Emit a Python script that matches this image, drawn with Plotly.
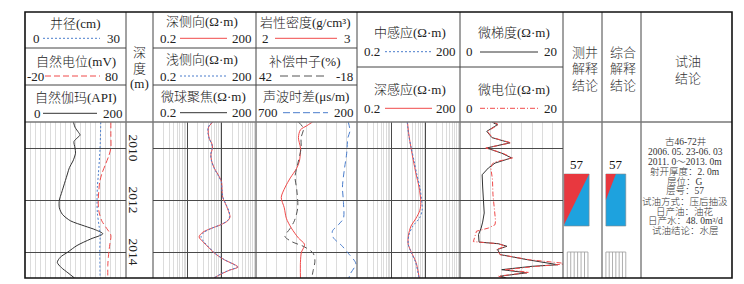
import plotly.graph_objects as go
import math

# page body has an 8px default margin: the figure is placed at (8, 8) in the window
OFF = 8
W, H = 744 - OFF, 284 - OFF
def px(x): return (x - OFF) / W
def py(y): return 1 - (y - OFF) / H

# ---------------- data ----------------
depth_top, depth_bot = 2009.0, 2015.0
depth_ticks = [2010, 2012, 2014]

# Track 1
gr_depth = [2009.0, 2009.2, 2009.4, 2009.5, 2009.62, 2009.75, 2010.0, 2010.2, 2010.5, 2010.75, 2011.0, 2011.25,
            2011.5, 2011.75, 2012.0, 2012.3, 2012.55, 2012.8, 2013.0, 2013.15, 2013.3, 2013.5, 2013.75, 2014.0,
            2014.2, 2014.4, 2014.6, 2014.8, 2015.0]
gr = [96, 99, 106, 109, 103, 97, 99, 100, 95, 88, 84, 80, 76, 72, 68, 68, 74, 90, 118, 140, 154, 130, 103, 85,
      70, 64, 72, 85, 98]
cal_depth = [2009.0, 2010.0, 2011.0, 2011.5, 2012.0, 2012.5, 2013.0, 2013.3, 2014.0, 2015.0]
cal = [22.5, 22.3, 21.8, 21.5, 21.4, 21.5, 22.0, 22.3, 22.2, 22.3]
sp_depth = [2009.0, 2009.5, 2010.0, 2010.3, 2010.6, 2011.0, 2011.3, 2011.7, 2012.0, 2012.4, 2012.8, 2013.1,
            2013.35, 2013.7, 2014.0, 2014.5, 2015.0]
sp = [65, 65, 65, 63, 60, 56, 54, 53, 52.5, 53, 56, 61, 65, 64, 63, 62, 62]

# Track 2 (laterolog)
ll_depth = [2009.0, 2009.2, 2009.45, 2009.65, 2009.85, 2010.0, 2010.25, 2010.5, 2010.8, 2011.1, 2011.3, 2011.6,
            2011.9, 2012.2, 2012.45, 2012.65, 2012.8, 2012.95, 2013.1, 2013.25, 2013.42, 2013.6, 2013.8, 2014.05,
            2014.3, 2014.5, 2014.58, 2014.7, 2014.85, 2015.0]
lld = [11, 8.3, 8.2, 8.8, 10.5, 10.8, 9.7, 10.2, 12.5, 17, 19.8, 20.5, 21.5, 27, 32, 35, 30, 19, 9.5, 5.5, 4.4,
       5.6, 8, 12.5, 24, 50, 60, 34, 19, 12]
lls = [10.6, 8.1, 8.0, 8.7, 10.3, 10.6, 9.6, 10.1, 12.3, 16.5, 19.5, 20.3, 21.8, 27.5, 33, 34, 29, 18.5, 9.8, 6.0,
       5.0, 6.0, 8.3, 12.8, 24.5, 48, 57, 33, 18.5, 12]

# Track 3 (porosity)
den_depth = [2009.0, 2009.15, 2009.3, 2009.6, 2010.0, 2010.5, 2010.8, 2011.15, 2011.5, 2011.9, 2012.3, 2012.7,
             2013.08, 2013.46, 2013.7, 2013.85, 2014.0, 2014.4, 2015.0]
den = [2.56, 2.50, 2.44, 2.42, 2.44, 2.43, 2.40, 2.34, 2.29, 2.25, 2.28, 2.30, 2.35, 2.42, 2.48, 2.47, 2.45, 2.44,
       2.44]
cnl_depth = [2009.0, 2009.25, 2009.6, 2010.0, 2010.5, 2011.1, 2011.6, 2012.3, 2012.8, 2013.1, 2013.4, 2013.6,
             2013.8, 2014.05, 2014.35, 2014.7, 2015.0]
cnl = [16.8, 13.8, 15.2, 15.2, 16.8, 18.8, 17.8, 17.2, 19.2, 21.8, 24.8, 20.8, 13.3, 8.0, 7.0, 8.0, 8.9]
ac_depth = [2009.0, 2009.35, 2009.6, 2010.2, 2010.85, 2011.5, 2012.1, 2012.7, 2012.95, 2013.2, 2013.45, 2013.75,
            2014.05, 2014.45, 2014.85, 2015.0]
ac = [243, 235, 245, 251, 263, 272, 267, 267, 292, 322, 317, 276, 243, 206, 234, 240]

# Track 4 (induction)
ind_depth = [2009.0, 2009.5, 2010.0, 2010.5, 2011.0, 2011.5, 2012.1, 2012.4, 2012.7, 2013.0, 2013.35, 2013.7,
             2014.0, 2014.4, 2015.0]
ild = [5.9, 6.5, 7.5, 8.8, 10.5, 12.8, 14.5, 13.5, 10.5, 7.5, 6.3, 6.2, 7.6, 10.5, 13]
ilm = [5.8, 6.4, 7.6, 9.2, 11, 13.5, 15.5, 15.8, 13.2, 8.5, 6.5, 6.2, 7.5, 10.2, 12.8]

# Track 5 (microlog)
mg_depth = [2009.0, 2009.04, 2009.1, 2009.36, 2009.6, 2009.8, 2010.0, 2010.2, 2010.38, 2010.58, 2010.77, 2011.03,
            2011.5, 2012.0, 2012.5, 2012.85, 2013.08, 2013.33, 2013.62, 2013.68, 2013.78, 2013.9, 2014.1, 2014.3,
            2014.49, 2014.55, 2014.68, 2014.8, 2014.93, 2015.0]
mg = [6.3, 6.5, 7.3, 5.2, 6.2, 9.7, 5.2, 8.1, 10.0, 6.8, 5.5, 4.3, 4.4, 4.6, 4.7, 4.4, 4.1, 3.6, 3.7, 7.4, 9.1,
      7.3, 7.8, 13.2, 19, 14, 8.1, 13, 7.8, 9]
mn_depth = [2009.0, 2009.1, 2009.36, 2009.6, 2009.8, 2010.0, 2010.2, 2010.38, 2010.55, 2010.64, 2010.8, 2011.2,
            2011.8, 2012.3, 2012.8, 2012.95, 2013.08, 2013.2, 2013.6, 2013.68, 2013.78, 2013.9, 2014.1, 2014.3,
            2014.45, 2014.55, 2014.68, 2014.78, 2014.93, 2015.0]
mn = [6.5, 7.5, 5.3, 6.3, 9.9, 5.0, 8.3, 10.2, 6.6, 6.2, 6.0, 6.3, 6.4, 6.6, 6.9, 6.8, 5.5, 3.2, 2.6, 7.4, 8.9,
      7.1, 7.8, 13.5, 21, 15, 8.7, 13.4, 7.5, 8.5]

# Interpretation
layer_no = ["57"]
layer_top = [2011.0]
layer_bot = [2013.0]
test_top = [2014.0]
test_bot = [2015.0]

oil_test_lines = ["古46-72井", "2006. 05. 23-06. 03", "2011. 0～2013. 0m", "射开厚度：2. 0m", "层位：G",
                  "层号：57", "试油方式：压后抽汲", "日产油：油花", "日产水：48. 0m³/d", "试油结论：水层"]

# ---------------- styling ----------------
RED = "#f04a4a"
BLUE = "#4a7dcc"
BLK = "#333333"
SERIF = "Liberation Serif, Noto Sans CJK SC, serif"
GRID = "#dcdcdc"
MAJ = "#4a4a4a"

Y0, Y1 = 122, 278
ydom = [py(Y1), py(Y0)]

cols = {"t1": (25, 126), "t2": (153, 256), "t3": (256, 357), "t4": (357, 460), "t5": (460, 563),
        "c1": (563, 602), "c2": (602, 641)}

fig = go.Figure()
lay = {}

def dom(k):
    a, b = cols[k]
    return [px(a), px(b)]

def base_x(name, k, rng, typ="linear", tickvals=None, minor_vals=None, major_vals=None, anchor="y"):
    d = dict(domain=dom(k), range=rng, type=typ, showticklabels=False, ticks="", zeroline=False,
             showline=False, anchor=anchor, fixedrange=True)
    if tickvals is not None:
        d.update(tickmode="array", tickvals=tickvals, showgrid=True, gridcolor=GRID, gridwidth=1)
    elif major_vals is not None:
        d.update(tickmode="array", tickvals=major_vals, showgrid=True, gridcolor=MAJ, gridwidth=1.2,
                 minor=dict(tickmode="array", tickvals=minor_vals, showgrid=True, gridcolor=GRID, gridwidth=1,
                            ticks=""))
    else:
        d.update(showgrid=False)
    lay[name] = d

def over_x(name, base, rng, typ="linear", anchor="y"):
    lay[name] = dict(overlaying=base, range=rng, type=typ, showticklabels=False, ticks="", showgrid=False,
                     zeroline=False, showline=False, anchor=anchor, fixedrange=True)

def yax(name, anchor, grid=True):
    d = dict(domain=ydom, range=[depth_bot, depth_top], showticklabels=False, ticks="", zeroline=False,
             showline=False, anchor=anchor, fixedrange=True)
    if grid:
        d.update(tickmode="array", tickvals=depth_ticks, showgrid=True, gridcolor=MAJ, gridwidth=1.2)
    else:
        d.update(showgrid=False)
    lay[name] = d

logminor = []
for dec in [0.2, 2, 20]:
    for k in range(1, 11):
        logminor.append(round(dec * k, 6))

# Track 1
base_x("xaxis", "t1", [0, 200], tickvals=list(range(0, 201, 10)))
over_x("xaxis2", "x", [0, 30])
over_x("xaxis3", "x", [-20, 80])
yax("yaxis", "x")
# Track 2
base_x("xaxis4", "t2", [math.log10(0.2), math.log10(200)], typ="log", major_vals=[2, 20], minor_vals=logminor,
       anchor="y2")
over_x("xaxis5", "x4", [math.log10(0.2), math.log10(200)], typ="log", anchor="y2")
yax("yaxis2", "x4")
# Track 3
base_x("xaxis6", "t3", [2, 3], tickvals=[2 + i * 0.1 for i in range(11)], anchor="y3")
over_x("xaxis7", "x6", [42, -18], anchor="y3")
over_x("xaxis8", "x6", [700, 200], anchor="y3")
yax("yaxis3", "x6")
# Track 4
base_x("xaxis9", "t4", [math.log10(0.2), math.log10(200)], typ="log", major_vals=[2, 20], minor_vals=logminor,
       anchor="y4")
over_x("xaxis10", "x9", [math.log10(0.2), math.log10(200)], typ="log", anchor="y4")
yax("yaxis4", "x9")
# Track 5
base_x("xaxis11", "t5", [0, 20], tickvals=list(range(0, 21, 2)), anchor="y5")
over_x("xaxis12", "x11", [0, 20], anchor="y5")
yax("yaxis5", "x11")
# interpretation columns
base_x("xaxis13", "c1", [0, 1], anchor="y6")
yax("yaxis6", "x13", grid=False)
base_x("xaxis14", "c2", [0, 1], anchor="y7")
yax("yaxis7", "x14", grid=False)

def curve(x, y, xa, ya, color, dash="solid", width=1.0, shape="spline"):
    fig.add_trace(go.Scatter(x=x, y=y, xaxis=xa, yaxis=ya, mode="lines", hoverinfo="skip",
                             line=dict(color=color, dash=dash, width=width, shape=shape,
                                       smoothing=0.8 if shape == "spline" else None)))

curve(gr, gr_depth, "x", "y", BLK)
curve(cal, cal_depth, "x2", "y", BLUE, dash="2px,2px")
curve(sp, sp_depth, "x3", "y", RED, dash="6px,3px")
curve(lls, ll_depth, "x5", "y2", BLUE, dash="2px,2px")
curve(lld, ll_depth, "x4", "y2", RED)
curve(cnl, cnl_depth, "x7", "y3", "#555555", dash="6px,4px")
curve(ac, ac_depth, "x8", "y3", BLUE, dash="6px,4px")
curve(den, den_depth, "x6", "y3", RED)
curve(ilm, ind_depth, "x10", "y4", BLUE, dash="2px,2px")
curve(ild, ind_depth, "x9", "y4", RED)
curve(mn, mn_depth, "x12", "y5", RED, dash="5px,2px,1px,2px", shape="linear")
curve(mg, mg_depth, "x11", "y5", BLK, shape="linear")

# interpretation blocks
C_RED = "#e8383f"
C_BLUE = "#1ea2de"
def block(xa, ya, x0, x1, top, bot, fr):
    xm = x0 + (x1 - x0) * fr[0]
    ym = top + (bot - top) * fr[1]
    fig.add_trace(go.Scatter(x=[x0, x1, x1, x0, x0], y=[top, top, bot, bot, top], xaxis=xa, yaxis=ya,
                             mode="lines", fill="toself", fillcolor=C_BLUE, line=dict(color="#888", width=0.6),
                             hoverinfo="skip"))
    fig.add_trace(go.Scatter(x=[x0, xm, x0, x0], y=[top, top, ym, top], xaxis=xa, yaxis=ya, mode="lines",
                             fill="toself", fillcolor=C_RED, line=dict(color=C_RED, width=0), hoverinfo="skip"))

def hatch(xa, ya, x0, x1, top, bot, n=6):
    xs, ys = [x0, x1, x1, x0, x0], [top, top, bot, bot, top]
    for i in range(1, n):
        xx = x0 + (x1 - x0) * i / n
        xs += [None, xx, xx]
        ys += [None, top, bot]
    fig.add_trace(go.Scatter(x=xs, y=ys, xaxis=xa, yaxis=ya, mode="lines", line=dict(color="#9a9a9a", width=0.8),
                             hoverinfo="skip"))

for i in range(len(layer_no)):
    block("x13", "y6", 0.03, 0.67, layer_top[i], layer_bot[i], (1.0, 0.97))
    block("x14", "y7", 0.10, 0.61, layer_top[i], layer_bot[i], (0.5, 0.5))
for i in range(len(test_top)):
    hatch("x13", "y6", 0.11, 0.64, test_top[i], test_bot[i])
    hatch("x14", "y7", 0.10, 0.61, test_top[i], test_bot[i])

ann = []
def txt(x, y, s, size=13, color="#222", **kw):
    d = dict(x=px(x), y=py(y), xref="paper", yref="paper", text=s, showarrow=False, xanchor="center",
             yanchor="middle", font=dict(family=SERIF, size=size, color=color, weight=300))
    d.update(kw)
    ann.append(d)

for i in range(len(layer_no)):
    for xa, ya, xc in (("x13", "y6", 0.35), ("x14", "y7", 0.36)):
        ann.append(dict(x=xc, y=layer_top[i], xref=xa, yref=ya, text=layer_no[i],
                        showarrow=False, xanchor="center", yanchor="bottom", yshift=0,
                        font=dict(family=SERIF, size=13, color="#111")))

for d in depth_ticks:
    ann.append(dict(x=px(133.5), y=d, xref="paper", yref="y", text=str(d), showarrow=False, textangle=90,
                    xanchor="center", yanchor="middle", font=dict(family=SERIF, size=13.5, color="#222")))

for i, s in enumerate(oil_test_lines):
    txt(685, 141.7 + i * 9.9, s, size=9.5, color="#333")

# headers
txt(75, 23.5, "井径(cm)"); txt(36, 38.3, "0"); txt(113, 38.3, "30")
txt(75.5, 61.5, "自然电位(mV)"); txt(35, 76, "-20"); txt(112, 76, "80")
txt(75.5, 97.5, "自然伽玛(API)"); txt(37, 113, "0"); txt(112.5, 113, "200")
txt(139.5, 52, "深"); txt(139.5, 68.5, "度"); txt(139.5, 83, "(m)")
txt(202, 21.5, "深侧向(Ω·m)"); txt(168, 38.3, "0.2"); txt(242, 38.3, "200")
txt(202, 60, "浅侧向(Ω·m)"); txt(168, 76, "0.2"); txt(242, 76, "200")
txt(203, 96.7, "微球聚焦(Ω·m)"); txt(168, 112.7, "0.2"); txt(242, 112.7, "200")
txt(305, 22.5, "岩性密度(g/cm³)"); txt(265, 38.3, "2"); txt(347.5, 38.3, "3")
txt(305, 61.5, "补偿中子(%)"); txt(265, 76, "42"); txt(344, 76, "-18")
txt(306, 96.7, "声波时差(μs/m)"); txt(268, 112.7, "700"); txt(344, 112.7, "200")
txt(410, 32.3, "中感应(Ω·m)"); txt(371.5, 51.7, "0.2"); txt(445.5, 51.7, "200")
txt(410, 89.3, "深感应(Ω·m)"); txt(371.5, 108.3, "0.2"); txt(445.5, 108.3, "200")
txt(514, 32.3, "微梯度(Ω·m)"); txt(470, 51.7, "0"); txt(550, 51.7, "20")
txt(514, 89.3, "微电位(Ω·m)"); txt(470, 108.3, "0"); txt(550, 108.3, "20")
for x, lines in ((585, ["测井", "解释", "结论"]), (623, ["综合", "解释", "结论"])):
    for j, s in enumerate(lines):
        txt(x, 52.7 + j * 16.2, s, size=13, color="#333")
txt(688, 61.7, "试油", size=13, color="#333"); txt(688, 78.3, "结论", size=13, color="#333")

shapes = []
def hline(x0, x1, y, color=MAJ, w=1.0, dash="solid"):
    shapes.append(dict(type="line", xref="paper", yref="paper", x0=px(x0), x1=px(x1), y0=py(y), y1=py(y),
                       line=dict(color=color, width=w, dash=dash), layer="above"))
def vline(x, y0, y1, color=MAJ, w=1.0):
    shapes.append(dict(type="line", xref="paper", yref="paper", x0=px(x), x1=px(x), y0=py(y0), y1=py(y1),
                       line=dict(color=color, width=w), layer="above"))

# legend sample lines
hline(43, 100, 38.3, BLUE, 1, "2px,2px"); hline(45, 100, 76, RED, 1, "6px,3px"); hline(43, 97, 113.3, BLK, 1)
hline(180, 227, 38.3, RED, 1); hline(180, 227, 76, BLUE, 1, "2px,2px"); hline(180, 227, 112.7, BLK, 1)
hline(275, 337, 38.3, RED, 1); hline(280, 328, 76, "#555", 1, "8px,4px"); hline(283, 328, 112.7, BLUE, 1, "7px,3px")
hline(385, 432, 51.7, BLUE, 1, "2px,2px"); hline(385, 432, 108.3, RED, 1)
hline(480, 538, 52, BLK, 1); hline(480, 538, 108.3, RED, 1, "5px,2px,1px,2px")

# table structure
for x in [126, 153, 256, 357, 460, 563, 602, 641]:
    vline(x, 12, 278, "#444", 1)
hline(25, 126, 48, "#444"); hline(25, 126, 85, "#444")
hline(153, 357, 48, "#444"); hline(153, 357, 85, "#444")
hline(357, 563, 67, "#444")
hline(25, 732, 122, "#777", 1.6)
shapes.append(dict(type="rect", xref="paper", yref="paper", x0=px(25), x1=px(732), y0=py(278), y1=py(12),
                   line=dict(color="#111", width=1.6), layer="above"))

lay.update(dict(width=W, height=H, margin=dict(l=0, r=0, t=0, b=0), paper_bgcolor="white", plot_bgcolor="white",
                showlegend=False, annotations=ann, shapes=shapes))
fig.update_layout(**lay)
fig.write_html("out.html")
